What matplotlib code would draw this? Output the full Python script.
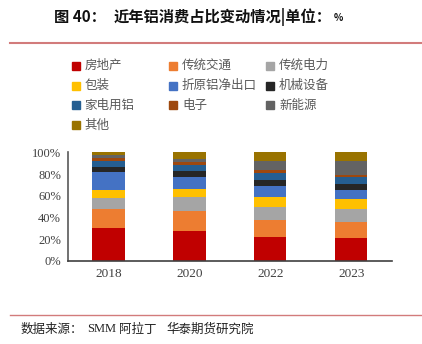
import matplotlib

matplotlib.use("Agg")
import matplotlib.pyplot as plt
from matplotlib.patches import Rectangle
from matplotlib.ticker import PercentFormatter
from matplotlib.lines import Line2D

plt.rcParams["font.family"] = ["Noto Sans CJK SC", "DejaVu Sans"]

years = ["2018", "2020", "2022", "2023"]
sectors = ["房地产", "传统交通", "传统电力", "包装", "折原铝净出口", "机械设备",
           "家电用铝", "电子", "新能源", "其他"]
colors = ["#C00000", "#ED7D31", "#A5A5A5", "#FFC000", "#4472C4", "#262626",
          "#255E91", "#9E480E", "#636363", "#997300"]

# consumption share by sector, % of total (one list per year)
share_2018 = [29.9, 17.5, 10.7, 7.1, 16.9, 4.1, 5.5, 3.0, 2.5, 2.8]
share_2020 = [27.7, 18.4, 12.7, 7.6, 10.5, 5.8, 5.6, 3.0, 2.5, 6.2]
share_2022 = [21.9, 15.4, 12.5, 9.0, 10.4, 5.5, 5.9, 3.3, 7.8, 8.3]
share_2023 = [21.2, 14.8, 11.7, 8.9, 8.9, 5.5, 5.9, 2.4, 13.0, 7.7]
shares = [share_2018, share_2020, share_2022, share_2023]

fig = plt.figure(figsize=(4.22, 3.44), dpi=100)
ax = fig.add_axes([0.161, 0.242, 0.767, 0.315])

x = list(range(len(years)))
bottoms = [0.0] * len(years)
for i, (name, col) in enumerate(zip(sectors, colors)):
    vals = [s[i] / 100 for s in shares]
    ax.bar(x, vals, width=0.4, bottom=bottoms, color=col, label=name)
    bottoms = [b + v for b, v in zip(bottoms, vals)]

ax.set_xlim(-0.5, 3.5)
ax.set_ylim(0, 1)
ax.set_xticks(x)
ax.set_xticklabels(years, fontfamily="Liberation Serif", fontsize=9.5, color="#404040")
ax.set_yticks([0, 0.2, 0.4, 0.6, 0.8, 1.0])
ax.yaxis.set_major_formatter(PercentFormatter(1.0, decimals=0))
for lab in ax.get_yticklabels():
    lab.set_fontfamily("Liberation Serif")
    lab.set_fontsize(9)
    lab.set_color("#404040")
ax.tick_params(axis="both", length=0, pad=5)
for side in ("top", "right"):
    ax.spines[side].set_visible(False)
ax.spines["left"].set_color("#595959")
ax.spines["bottom"].set_color("#404040")
ax.spines["left"].set_linewidth(1.2)
ax.spines["bottom"].set_linewidth(1.2)

# legend grid, three columns
W, H = 422, 344
col_x = [75.7, 173, 270]
row_y = [65.7, 85.7, 105, 125]
for i, (name, col) in enumerate(zip(sectors, colors)):
    cx = col_x[i % 3]
    cy = row_y[i // 3]
    fig.patches.append(Rectangle(((cx - 4) / W, 1 - (cy + 4) / H), 8 / W, 8 / H,
                                 transform=fig.transFigure, color=col))
    fig.text((cx + 9) / W, 1 - cy / H, name, fontsize=9, color="#595959",
             va="center", ha="left")

# header and footer
fig.text(54 / W, 1 - 17 / H, "图 40：", fontsize=11, fontweight="bold",
         va="center", ha="left", color="#111111")
fig.text(114 / W, 1 - 17 / H, "近年铝消费占比变动情况|单位：", fontsize=11,
         fontweight="bold", va="center", ha="left", color="#111111")
fig.text(334 / W, 1 - 18 / H, "%", fontsize=7, fontweight="bold",
         va="center", ha="left", color="#111111")
fig.add_artist(Line2D([10 / W, 1], [1 - 43 / H] * 2, color="#D27B7B", lw=1.5))
fig.add_artist(Line2D([10 / W, 1], [1 - 315 / H] * 2, color="#D27B7B", lw=1.0))
fig.text(21 / W, 1 - 329 / H, "数据来源：", fontsize=9, va="center", ha="left",
         color="#222222")
fig.text(87 / W, 1 - 329 / H, "SMM", fontsize=9, va="center", ha="left",
         fontfamily="Liberation Serif", color="#222222")
fig.text(119 / W, 1 - 329 / H, "阿拉丁", fontsize=9, va="center",
         ha="left", color="#222222")
fig.text(166 / W, 1 - 329 / H, "华泰期货研究院", fontsize=9, va="center",
         ha="left", color="#222222")

fig.savefig("out.png", dpi=100)
